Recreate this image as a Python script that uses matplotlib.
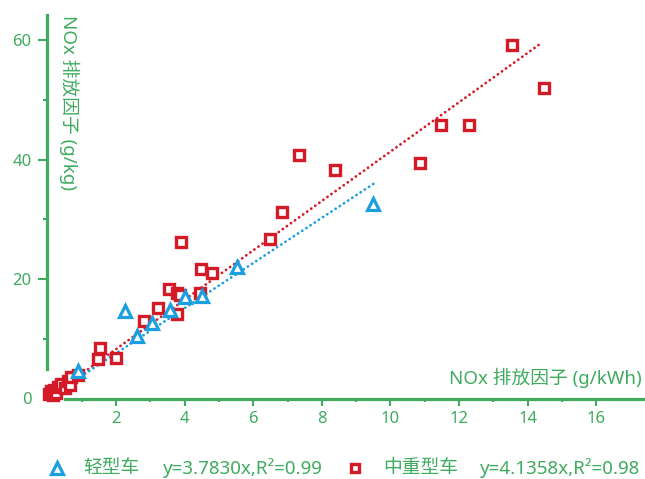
import matplotlib
matplotlib.use('Agg')
import matplotlib.pyplot as plt
import numpy as np

plt.rcParams['font.family'] = ['Noto Sans', 'Noto Sans CJK SC', 'DejaVu Sans']

green = '#3fab5e'
red = '#d41a26'
blue = '#1a9fe0'

# light-duty vehicles (g/kWh, g/kg)
light_x = [0.88, 2.26, 2.61, 3.05, 3.58, 4.01, 4.50, 5.53, 9.49]
light_y = [4.6, 14.7, 10.4, 12.6, 14.8, 17.0, 17.2, 22.0, 32.6]

# medium/heavy-duty vehicles
heavy_x = [0.05, 0.10, 0.15, 0.20, 0.25, 0.30, 0.40, 0.50, 0.60, 0.65, 0.70, 0.90,
           1.47, 1.53, 2.00, 2.83, 3.23, 3.55, 3.77, 3.77, 3.87, 3.90, 4.45, 4.48,
           4.80, 6.49, 6.84, 7.33, 8.38, 10.86, 11.48, 12.30, 13.55, 14.48]
heavy_y = [0.8, 1.2, 0.6, 1.5, 1.0, 2.0, 2.5, 1.8, 3.0, 2.2, 3.6, 4.0,
           6.6, 8.4, 6.8, 13.0, 15.2, 18.3, 17.7, 14.1, 17.4, 26.2, 17.7, 21.7,
           21.0, 26.7, 31.2, 40.8, 38.3, 39.4, 45.8, 45.8, 59.2, 52.0]

light_k, light_r2, light_xmax = 3.7830, 0.99, 9.5
heavy_k, heavy_r2, heavy_xmax = 4.1358, 0.98, 14.42

fs = 13.5

fig = plt.figure(figsize=(6.45, 4.79), dpi=100)
ax = fig.add_axes([47.4 / 645, (479 - 398.5) / 479, 1 - 47.4 / 645, 388 / 479])
ax.set_xlim(0, 17.42)
ax.set_ylim(0, 65)

# fit lines
dots = (0, (0.05, 1.75))
xl = np.array([0, light_xmax])
xh = np.array([0, heavy_xmax])
ax.plot(xh, heavy_k * xh, color=red, lw=2, linestyle=dots, dash_capstyle='round', zorder=2)
ax.plot(xl, light_k * xl, color=blue, lw=2, linestyle=dots, dash_capstyle='round', zorder=2)

ax.plot(heavy_x, heavy_y, 's', ms=6.5, mfc='white', mec=red, mew=2.4, clip_on=False, zorder=3)
ax.plot(light_x, light_y, '^', ms=8.5, mfc='white', mec=blue, mew=2.3, clip_on=False, zorder=4)

# axes styling
for s in ['top', 'right']:
    ax.spines[s].set_visible(False)
for s in ['left', 'bottom']:
    ax.spines[s].set_color(green)
    ax.spines[s].set_linewidth(2.3)
ax.spines['left'].set_bounds(5, 64.3)
ax.spines['bottom'].set_bounds(0.5, 17.42)

ax.set_xticks(np.arange(2, 17, 2))
ax.set_xticks(np.arange(1, 16, 2), minor=True)
ax.set_yticks([0, 20, 40, 60])
ax.set_yticks([10, 30, 50], minor=True)
ax.tick_params(axis='x', which='major', length=5, width=1.5, color=green, labelcolor=green,
               labelsize=12, pad=4)
ax.tick_params(axis='x', which='minor', length=2.5, width=1.5, color=green)
ax.tick_params(axis='y', which='major', length=6.5, width=1.5, color=green, labelcolor=green,
               labelsize=12, pad=5)
ax.tick_params(axis='y', which='minor', length=3, width=1.5, color=green)
ax.yaxis.get_major_ticks()[0].tick1line.set_visible(False)

ax.text(0.64, 64.3, 'NOx 排放因子 (g/kg)', rotation=270, ha='center', va='top',
        color=green, fontsize=fs)
ax.text(17.33, 3.4, 'NOx 排放因子 (g/kWh)', ha='right', va='center',
        color=green, fontsize=fs)

# legend
ly = 1 - 468 / 479
fig.lines.append(plt.Line2D([57 / 645], [ly], marker='^', ms=8, mfc='white', mec=blue, mew=2.3,
                            transform=fig.transFigure))
fig.lines.append(plt.Line2D([355 / 645], [ly], marker='s', ms=6, mfc='white', mec=red, mew=2.4,
                            transform=fig.transFigure))
fig.text(83 / 645, ly, '轻型车', color=green, fontsize=fs, va='center')
fig.text(163 / 645, ly, 'y={:.4f}x,R²={:.2f}'.format(light_k, light_r2), color=green,
         fontsize=fs, va='center')
fig.text(383 / 645, ly, '中重型车', color=green, fontsize=fs, va='center')
fig.text(480 / 645, ly, 'y={:.4f}x,R²={:.2f}'.format(heavy_k, heavy_r2), color=green,
         fontsize=fs, va='center')

fig.savefig('out.png', dpi=100)
